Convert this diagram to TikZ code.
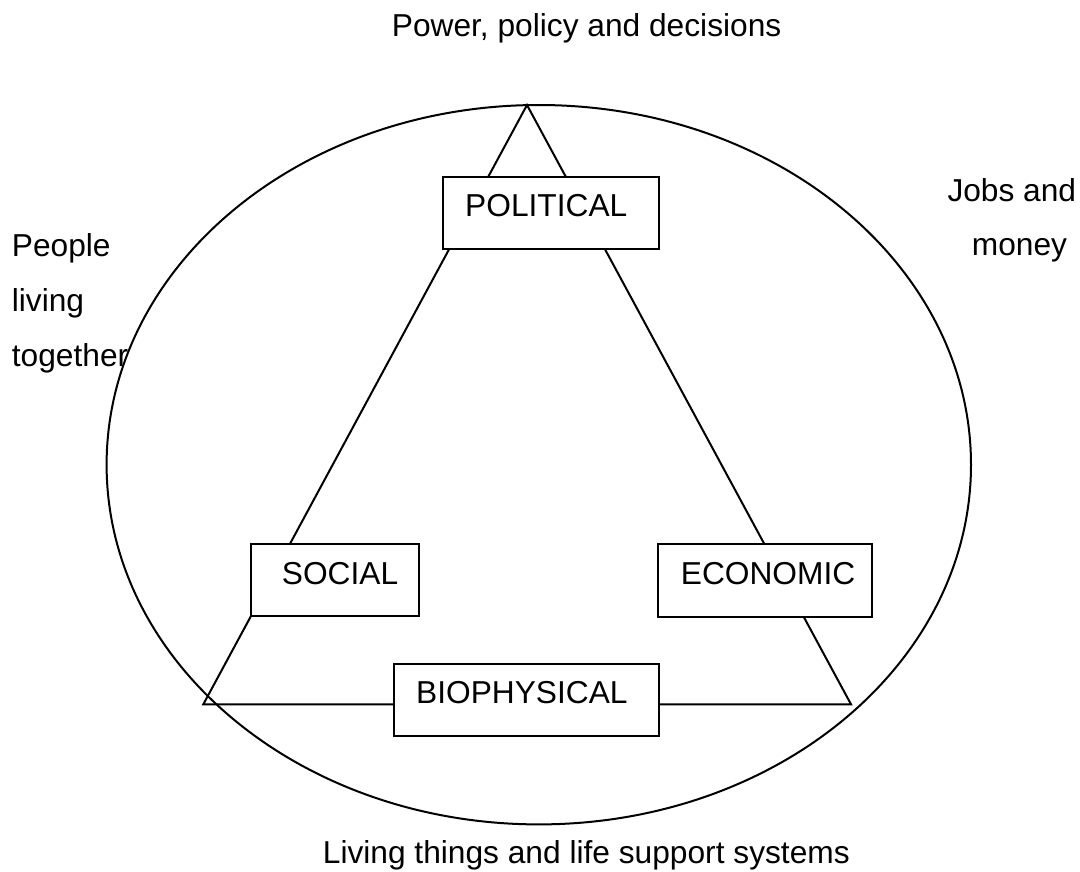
\documentclass[tikz,border=0pt]{standalone}
\usepackage{fontspec}
\setmainfont{Liberation Sans}
\begin{document}
\begin{tikzpicture}[x=1pt,y=-1pt,
  ln/.style={line width=2pt, black},
  boxn/.style={draw, line width=2pt, fill=white, inner sep=0pt},
  lbl/.style={anchor=base west, inner sep=0pt, font=\fontsize{31.7}{38}\selectfont}]
\useasboundingbox (0,0) rectangle (1080,871);
% ellipse
\draw[ln] (538.8,464.7) ellipse [x radius=432.2pt, y radius=359.7pt];
% triangle
\coordinate (apex) at (527,105);
\coordinate (bl) at (203.3,704.3);
\coordinate (br) at (851,704.3);
\draw[ln, line join=miter] (apex) -- (bl) -- (br) -- cycle;
% boxes
\node[boxn, minimum width=216.6pt, minimum height=71.7pt] (polbox) at (551,213.2) {};
\node[boxn, minimum width=168.6pt, minimum height=72pt] (socbox) at (335,580) {};
\node[boxn, minimum width=213.7pt, minimum height=72.5pt] (ecobox) at (765.2,580.3) {};
\node[boxn, minimum width=264.7pt, minimum height=71.7pt] (biobox) at (526.7,700.2) {};
% box labels
\node[lbl] (pol) at (465,216.7) {POLITICAL};
\node[lbl] (soc) at (281.7,584) {SOCIAL};
\node[lbl] (eco) at (680.7,584) {ECONOMIC};
\node[lbl] (bio) at (416,703.3) {BIOPHYSICAL};
% outer labels
\node[lbl] (top) at (391.7,36) {Power, policy and decisions};
\node[lbl] (bot) at (322.7,863.3) {Living things and life support systems};
\node[lbl] (p1) at (11.7,256.7) {People};
\node[lbl] (p2) at (11.7,311.7) {living};
\node[lbl] (p3) at (11.7,366) {together};
\node[lbl] (j1) at (947.3,201.7) {Jobs and};
\node[lbl] (j2) at (971.7,255) {money};
\end{tikzpicture}
\end{document}
